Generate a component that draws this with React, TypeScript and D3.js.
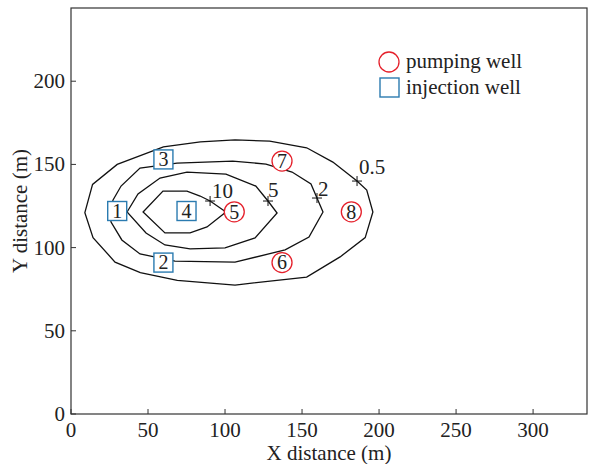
import React from 'react';
import * as d3 from 'd3';

// contour levels and their polygons (x, y in metres)
const levels = ['0.5', '2', '5', '10'];

const contour05: [number, number][] = [
  [9, 121], [14, 138], [30, 150], [60, 160.5], [84, 163.5], [106.5, 164.7], [129, 164],
  [153, 160], [170, 151.4], [185.7, 140], [192, 134.6], [196, 121.4], [191, 106],
  [174.7, 94.4], [153, 82.3], [106.5, 77.5], [69, 80.3], [45, 85], [28.6, 91.3], [14.3, 106]
];
const contour2: [number, number][] = [
  [25, 122], [27.3, 128.6], [32.5, 137], [44.8, 147.8], [68.8, 150.8], [105, 152],
  [126.6, 150.2], [143.5, 145.4], [155.8, 138.2], [159.7, 129.8], [163.6, 121.4],
  [154.5, 106.4], [139, 98.6], [106.5, 91.3], [67.5, 91.9], [44.8, 96.2], [33, 104.6], [26, 115.4]
];
const contour5: [number, number][] = [
  [36.4, 121.4], [43.5, 132.2], [57.8, 141.8], [75.3, 145.4], [100.6, 144.2], [120, 137],
  [127.9, 128], [133.8, 120.8], [119.5, 105.8], [100, 99.8], [77.3, 99.2], [61, 101.6], [48.7, 108.8]
];
const contour10: [number, number][] = [
  [46.8, 121.4], [59.7, 134], [75.3, 134], [83.8, 131], [90.3, 128], [100.6, 121.4],
  [88.3, 112.4], [77.3, 108.8], [61, 108.8]
];
const contours = [contour05, contour2, contour5, contour10];

// label marker points on each contour
const labelPoints: [number, number][] = [[185.7, 140], [159.7, 129.8], [127.9, 128], [90.3, 128]];

const injectionIds = ['1', '2', '3', '4'];
const injectionX = [30, 60, 60, 75];
const injectionY = [122, 91, 153, 122];

const pumpingIds = ['5', '6', '7', '8'];
const pumpingX = [106, 137, 137, 182];
const pumpingY = [121.5, 91, 152, 121.5];

const xTicks = [0, 50, 100, 150, 200, 250, 300];
const yTicks = [0, 50, 100, 150, 200];

const RED = '#e5202b';
const BLUE = '#2b7bb0';
const FONT = '"Liberation Serif", "DejaVu Serif", serif';
const FS = 21;

export default function App() {
  const width = 589;
  const height = 464;
  const m = { left: 71, right: 2, top: 8, bottom: 50 };

  const x = d3.scaleLinear().domain([0, 335]).range([m.left, width - m.right]);
  const y = d3.scaleLinear().domain([0, 244]).range([height - m.bottom, m.top]);

  const line = d3
    .line<[number, number]>()
    .x(d => x(d[0]))
    .y(d => y(d[1]))
    .curve(d3.curveLinearClosed);

  const labelDx = [2, 1, 0, 2];
  const labelDy = [-7, -2, -4, -3];

  return (
    <svg
      width={width}
      height={height}
      style={{ position: 'absolute', left: 0, top: 0, background: '#fff' }}
      fontFamily={FONT}
    >
      {contours.map((c, i) => (
        <path key={i} d={line(c) || ''} fill="none" stroke="#111" strokeWidth={1.3} />
      ))}

      {labelPoints.map((p, i) => {
        const px = x(p[0]);
        const py = y(p[1]);
        return (
          <g key={i}>
            <path d={`M${px - 5},${py}H${px + 5}M${px},${py - 5}V${py + 5}`} stroke="#111" strokeWidth={1} />
            <text x={px + labelDx[i]} y={py + labelDy[i]} fontSize={FS} fill="#222">
              {levels[i]}
            </text>
          </g>
        );
      })}

      {injectionIds.map((id, i) => (
        <g key={id} transform={`translate(${x(injectionX[i])},${y(injectionY[i])})`}>
          <rect x={-9.5} y={-9.5} width={19} height={19} fill="#fff" stroke={BLUE} strokeWidth={1.4} />
          <text textAnchor="middle" dy="0.34em" fontSize={20} fill="#222">{id}</text>
        </g>
      ))}

      {pumpingIds.map((id, i) => (
        <g key={id} transform={`translate(${x(pumpingX[i])},${y(pumpingY[i])})`}>
          <circle r={10} fill="#fff" stroke={RED} strokeWidth={1.3} />
          <text textAnchor="middle" dy="0.34em" fontSize={20} fill="#222">{id}</text>
        </g>
      ))}

      {/* frame */}
      <rect
        x={m.left}
        y={m.top}
        width={width - m.right - m.left}
        height={height - m.bottom - m.top}
        fill="none"
        stroke="#333"
        strokeWidth={1.2}
      />

      {xTicks.map(t => (
        <g key={t}>
          <line x1={x(t)} x2={x(t)} y1={y(0)} y2={y(0) - 5} stroke="#333" />
          <text x={x(t)} y={y(0) + 23} textAnchor="middle" fontSize={FS} fill="#222">{t}</text>
        </g>
      ))}
      {yTicks.map(t => (
        <g key={t}>
          <line x1={x(0)} x2={x(0) + 5} y1={y(t)} y2={y(t)} stroke="#333" />
          <text x={x(0) - 6} y={y(t)} dy="0.33em" textAnchor="end" fontSize={FS} fill="#222">{t}</text>
        </g>
      ))}

      <text x={(m.left + width - m.right) / 2} y={460} textAnchor="middle" fontSize={FS} fill="#222">
        X distance (m)
      </text>
      <text
        transform={`translate(27,${(m.top + height - m.bottom) / 2}) rotate(-90)`}
        textAnchor="middle"
        fontSize={FS}
        fill="#222"
      >
        Y distance (m)
      </text>

      {/* legend */}
      <circle cx={389} cy={62} r={10} fill="none" stroke={RED} strokeWidth={1.3} />
      <text x={406} y={68} fontSize={FS} fill="#222">pumping well</text>
      <rect x={380} y={78} width={19} height={19} fill="none" stroke={BLUE} strokeWidth={1.4} />
      <text x={406} y={94} fontSize={FS} fill="#222">injection well</text>
    </svg>
  );
}
